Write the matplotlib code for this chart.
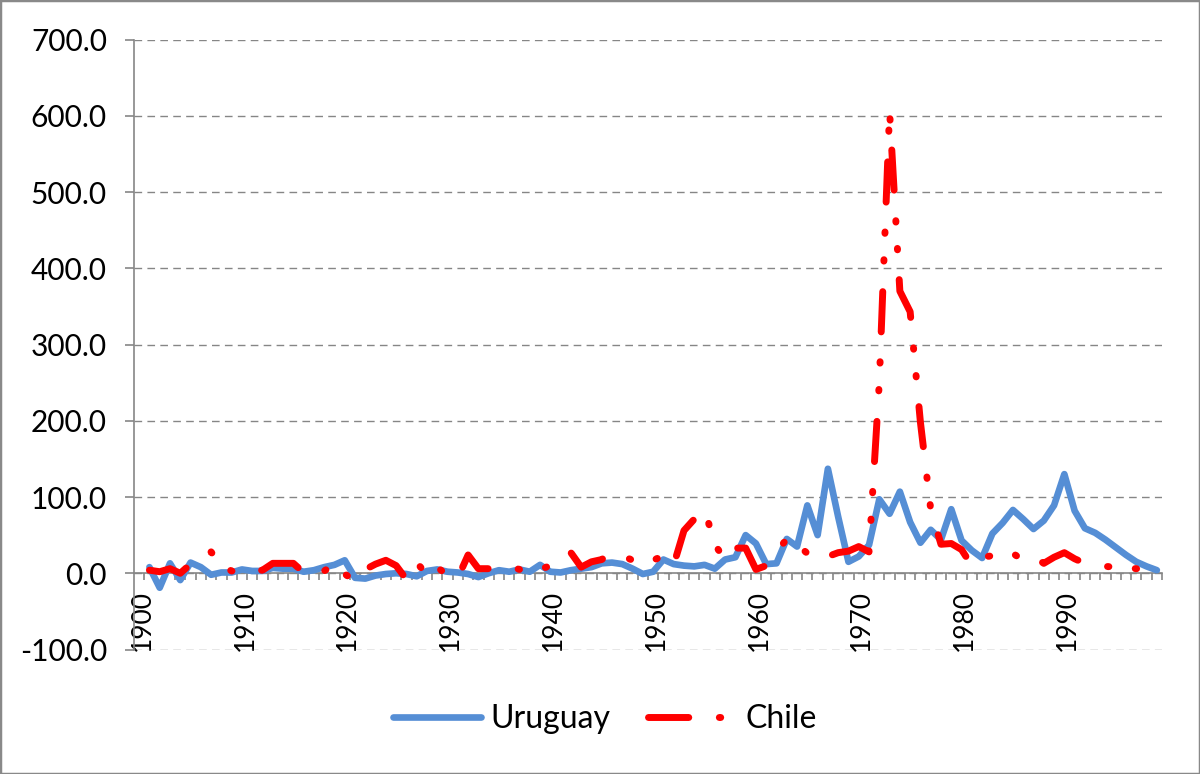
import matplotlib
matplotlib.use("Agg")
import matplotlib.pyplot as plt
import numpy as np
from matplotlib.patches import Rectangle
from matplotlib.ticker import FuncFormatter, FixedLocator
from matplotlib.transforms import ScaledTranslation

plt.rcParams['font.family'] = ['Lato', 'DejaVu Sans']

years = list(range(1901, 2000))

uruguay = [8, -19, 13, -9, 14, 8, -2, 1, 1, 5,
           3, 3, 7, 6, 6, 2, 4, 8, 11, 17,
           -6, -7, -3, -1, 0, -1, -4, 3, 5, 2,
           1, -1, -5, 0, 4, 2, 5, 2, 11, 2,
           1, 4, 6, 8, 13, 14, 12, 6, -1, 2,
           18, 12, 10, 9, 11, 6, 18, 21, 50, 39,
           12, 13, 45, 35, 89, 50, 137, 74, 15, 22,
           37, 97, 78, 107, 67, 40, 57, 44, 84, 43,
           30, 20, 52, 66, 83, 71, 58, 69, 89, 130,
           82, 59, 53, 44, 34, 24, 15, 9, 4]

chile = [4, 2, 6, 0, 12, 15, 28, 10, 3, 1,
         3, 4, 13, 13, 13, 1, 8, 3, 12, -1,
         -10, 5, 12, 17, 10, -8, 14, -2, 8, -3,
         -6, 24, 6, 6, 7, 9, 5, 3, 5, 10,
         24, 27, 8, 15, 18, 28, 23, 17, 20, 17,
         23, 11, 56, 71, 84, 38, 17, 33, 33, 5,
         10, 28, 45, 38, 26, 17, 22, 27, 29, 35,
         28, 250, 606, 370, 343, 198, 84, 38, 39, 31,
         10, 21, 23, 23, 26, 17, 22, 13, 21, 27,
         19, 13, 12, 9, 8, 7, 6, 5, 2]

series_names = ["Uruguay", "Chile"]
y_ticks = list(range(-100, 701, 100))
x_label_years = list(range(1900, 2000, 10))

W, H = 1200, 774
fig = plt.figure(figsize=(W / 100, H / 100), dpi=100)
fig.patch.set_facecolor('white')
left, right, top, bottom = 134, 1162, 39.5, 649.5
ax = fig.add_axes([left / W, 1 - bottom / H, (right - left) / W, (bottom - top) / H])

grey = '#868686'
ax.plot(years, uruguay, color='#558ED5', lw=4.8, solid_capstyle='round',
        solid_joinstyle='round', label=series_names[0], zorder=3)
ax.plot(years, chile, color='#FF0000', lw=5,
        linestyle=(0, (5.8, 4.4, 0.2, 3.8, 0.2, 4.3)),
        dash_capstyle='round', dash_joinstyle='round', label=series_names[1], zorder=4)

ax.set_xlim(1899.5, 1999.5)
ax.set_ylim(-100, 700)

for s in ['top', 'right']:
    ax.spines[s].set_visible(False)
ax.spines['left'].set_color(grey)
ax.spines['left'].set_linewidth(1.2)
ax.spines['bottom'].set_position(('data', 0))
ax.spines['bottom'].set_color(grey)
ax.spines['bottom'].set_linewidth(1.2)

ax.set_yticks(y_ticks)
ax.yaxis.set_major_formatter(FuncFormatter(lambda v, p: f"{v:.1f}"))
ax.tick_params(axis='y', direction='out', length=6.5, color=grey, width=1.2,
               labelsize=21.5, pad=13, labelcolor='black')
ax.yaxis.grid(True, linestyle=(0, (5.5, 3.8)), color=grey, lw=1.0)
ax.set_axisbelow(True)

ax.xaxis.set_major_locator(FixedLocator(x_label_years))
ax.set_xticklabels([str(y) for y in x_label_years], rotation=90)
ax.xaxis.set_minor_locator(FixedLocator(np.arange(1900.5, 1999.6, 1)))
ax.tick_params(axis='x', which='major', length=0, pad=12, labelsize=19, labelcolor='black')
ax.tick_params(axis='x', which='minor', direction='out', length=5, color=grey, width=1.2)
ax.xaxis.grid(False)
shift = ScaledTranslation(3 / 100, 0, fig.dpi_scale_trans)
for lab in ax.get_xticklabels():
    lab.set_transform(lab.get_transform() + shift)

leg = fig.legend(loc='center', bbox_to_anchor=(605 / W, 1 - 719 / H), ncol=2,
                 frameon=False, fontsize=23, handlelength=2.75, handletextpad=0.3,
                 columnspacing=1.2)

fig.patches.append(Rectangle((0, 0), 1, 1, transform=fig.transFigure, fill=False,
                             edgecolor='#898989', lw=2.5))

fig.savefig('out.png', dpi=100)
